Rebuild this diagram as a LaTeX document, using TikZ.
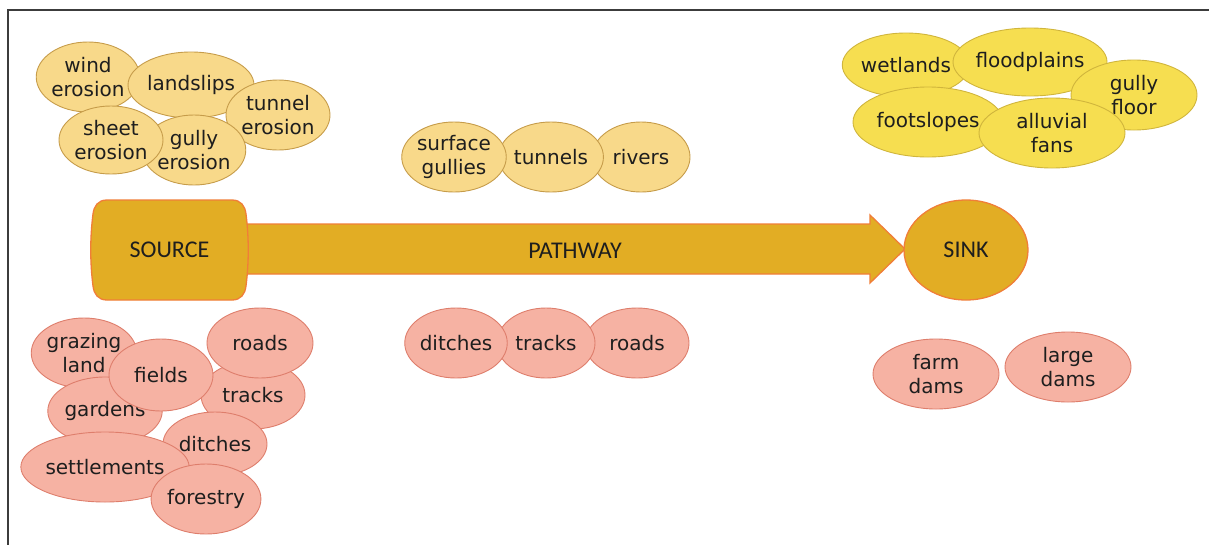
\documentclass[tikz,border=0pt]{standalone}
\usepackage{fontspec}
\setmainfont{DejaVu Sans}
\newfontfamily\capsfont{Carlito}
\usetikzlibrary{shapes.geometric}
\definecolor{ochreFill}{HTML}{F8D98A}
\definecolor{ochreLine}{HTML}{C69C4A}
\definecolor{lemonFill}{HTML}{F6DE50}
\definecolor{lemonLine}{HTML}{D0B53C}
\definecolor{salmonFill}{HTML}{F6B2A3}
\definecolor{salmonLine}{HTML}{DE7E6C}
\definecolor{goldFill}{HTML}{E2AD24}
\definecolor{goldLine}{HTML}{F07E38}
\definecolor{inkText}{HTML}{1E1E1E}
\definecolor{frameLine}{HTML}{3C3C3C}
\tikzset{
  blob/.style={ellipse, inner sep=0pt, align=center, text=inkText,
    font=\fontsize{20}{24}\selectfont, line width=0.9pt},
  ochre/.style={blob, fill=ochreFill, draw=ochreLine},
  lemon/.style={blob, fill=lemonFill, draw=lemonLine},
  salmon/.style={blob, fill=salmonFill, draw=salmonLine},
  stageshape/.style={fill=goldFill, draw=goldLine, line width=1.3pt},
  stagetext/.style={text=inkText, font=\capsfont\fontsize{24}{28}\selectfont},
}
\begin{document}
\begin{tikzpicture}[x=1pt,y=-1pt]
\useasboundingbox (0,0) rectangle (1209,544);
% frame edges
\draw[frameLine, line width=2pt] (8,545) -- (8,10) -- (1210,10);

% ---- source processes (top left)
\node[ochre, minimum width=102pt, minimum height=70pt] (wind) at (88,77) {wind\\erosion};
\node[ochre, minimum width=126pt, minimum height=66pt] (landslips) at (191,85) {landslips};
\node[ochre, minimum width=104pt, minimum height=70pt] (tunnelero) at (278,115) {tunnel\\erosion};
\node[ochre, minimum width=102pt, minimum height=70pt] (gullyero) at (194,150) {gully\\erosion};
\node[ochre, minimum width=104pt, minimum height=68pt] (sheet) at (111,140) {sheet\\erosion};

% ---- pathway processes (top middle)
\node[ochre, minimum width=98pt, minimum height=70pt] (rivers) at (641,157) {rivers};
\node[ochre, minimum width=98pt, minimum height=70pt] (tunnels) at (551,157) {tunnels};
\node[ochre, minimum width=102pt, minimum height=70pt] (surface) at (454,157) {surface\\gullies};

% ---- sinks (top right)
\node[lemon, minimum width=122pt, minimum height=64pt] (wetlands) at (906,65) {wetlands};
\node[lemon, minimum width=150pt, minimum height=68pt] (floodplains) at (1030,62) {floodplains};
\node[lemon, minimum width=126pt, minimum height=70pt] (gullyfloor) at (1134,95) {gully\\floor};
\node[lemon, minimum width=150pt, minimum height=70pt] (footslopes) at (928,122) {footslopes};
\node[lemon, minimum width=146pt, minimum height=70pt] (alluvial) at (1052,133) {alluvial\\fans};

% ---- main chain: pathway arrow, then source and sink on top of its ends
\coordinate (shaftTL) at (240,224);
\coordinate (shaftBL) at (240,274);
\coordinate (headTop) at (870,215);
\coordinate (headBot) at (870,283);
\coordinate (tip) at (905,249);
\filldraw[stageshape]
  (shaftTL) -- (shaftTL -| headTop) -- (headTop) -- (tip) -- (headBot)
  -- (shaftBL -| headBot) -- (shaftBL) -- cycle;
\node[stagetext] (pathway) at (575,251) {PATHWAY};
% barrel-shaped source block
\filldraw[stageshape]
  (107,200) -- (232,200)
  .. controls (241,200) and (245,206) .. (246,214)
  .. controls (249,238) and (249,262) .. (246,286)
  .. controls (245,294) and (241,300) .. (232,300)
  -- (107,300)
  .. controls (98,300) and (94,294) .. (93,286)
  .. controls (90,262) and (90,238) .. (93,214)
  .. controls (94,206) and (98,200) .. (107,200) -- cycle;
\node[stagetext] (source) at (169.5,250) {SOURCE};
\node[stageshape, stagetext, ellipse, minimum width=124pt, minimum height=100pt, inner sep=0pt] (sink) at (966,250) {SINK};

% ---- human-made source features (bottom left)
\node[salmon, minimum width=102pt, minimum height=70pt] (grazing) at (84,353) {grazing\\land};
\node[salmon, minimum width=104pt, minimum height=68pt] (gardens) at (105,411) {gardens};
\node[salmon, minimum width=104pt, minimum height=68pt] (tracksA) at (253,395) {tracks};
\node[salmon, minimum width=106pt, minimum height=70pt] (roadsA) at (260,343) {roads};
\node[salmon, minimum width=104pt, minimum height=72pt] (fields) at (161,375) {fields};
\node[salmon, minimum width=104pt, minimum height=64pt] (ditchesA) at (215,444) {ditches};
\node[salmon, minimum width=156pt, minimum height=70pt] (settlements) at (105,467) {settlements};
\node[salmon, minimum width=104pt, minimum height=70pt] (forestry) at (206,499) {forestry};

% ---- human-made pathway features (bottom middle)
\node[salmon, minimum width=104pt, minimum height=70pt] (roadsB) at (637,343) {roads};
\node[salmon, minimum width=98pt, minimum height=70pt] (tracksB) at (546,343) {tracks};
\node[salmon, minimum width=100pt, minimum height=70pt] (ditchesB) at (456,343) {ditches};

% ---- human-made sinks (bottom right)
\node[salmon, minimum width=126pt, minimum height=70pt] (farmdams) at (936,374) {farm\\dams};
\node[salmon, minimum width=126pt, minimum height=70pt] (largedams) at (1068,367) {large\\dams};
\end{tikzpicture}
\end{document}
